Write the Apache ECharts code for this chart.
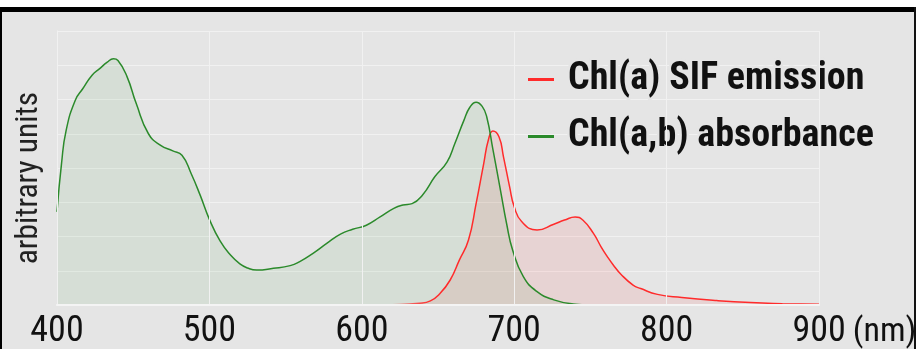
<!DOCTYPE html>
<html>
<head>
<meta charset="utf-8">
<script src="https://cdn.jsdelivr.net/npm/echarts@6/dist/echarts.min.js"></script>
<style>
  html, body { margin: 0; padding: 0; background: #ffffff; }
  #chart { width: 916px; height: 349px; }
</style>
</head>
<body>
<div id="chart"></div>
<script>
// Wavelength axis (nm)
const xTicks = [400, 500, 600, 700, 800, 900];

// Chl(a) SIF emission spectrum
const emissionNm  = [600, 620, 638, 645, 651, 658, 664, 670, 675, 680, 683, 686, 690, 693, 697, 700, 705, 715, 726, 733, 740, 745, 752, 757, 761, 765, 770, 778, 783, 794, 810, 833, 855, 876, 900];
const emissionVal = [0.00, 0.01, 0.05, 0.12, 0.32, 0.73, 1.31, 1.90, 2.96, 4.13, 4.81, 5.08, 4.91, 4.32, 3.45, 2.87, 2.43, 2.19, 2.36, 2.48, 2.57, 2.48, 2.09, 1.70, 1.42, 1.17, 0.90, 0.58, 0.48, 0.31, 0.22, 0.13, 0.07, 0.04, 0.02];

// Chl(a,b) absorbance spectrum
const absorbanceNm  = [400, 403, 406, 412, 417, 423, 428, 433, 437, 440, 446, 452, 460, 468, 476, 482, 488, 494, 500, 507, 514, 520, 525, 531, 542, 553, 559, 568, 577, 586, 594, 603, 612, 621, 627, 633, 640, 648, 656, 661, 667, 671, 675, 679, 682, 686, 691, 695, 699, 706, 715, 726, 739, 750, 760];
const absorbanceVal = [2.72, 4.14, 5.10, 5.98, 6.32, 6.71, 6.90, 7.09, 7.19, 7.14, 6.66, 5.88, 5.00, 4.66, 4.50, 4.37, 3.84, 3.20, 2.50, 1.87, 1.45, 1.20, 1.08, 1.02, 1.07, 1.15, 1.26, 1.51, 1.80, 2.07, 2.21, 2.33, 2.57, 2.82, 2.92, 2.96, 3.22, 3.75, 4.18, 4.71, 5.39, 5.78, 5.92, 5.80, 5.49, 4.55, 3.35, 2.38, 1.60, 0.83, 0.39, 0.15, 0.03, 0.00, 0.00];

const seriesNames = ['Chl(a) SIF emission', 'Chl(a,b) absorbance'];
const yAxisName = 'arbitrary units';
const xUnit = '(nm)';

const BG = '#e5e5e5';
const GRID_LINE = '#f1f1f1';
const RED = '#ff2b2b';
const GREEN = '#2b8a2b';

// Pick a narrow typeface if one is installed; otherwise fall back to Liberation Sans.
const measureCtx = document.createElement('canvas').getContext('2d');
function widthOf(prefix, weight, size, family, text) {
  measureCtx.font = [prefix, weight, size + 'px', family].filter(Boolean).join(' ');
  return measureCtx.measureText(text).width;
}
const SAMPLE = 'Chl(a,b) absorbance';
const refWidth = widthOf('', 'normal', 100, "'Liberation Sans'", SAMPLE);
const candidates = [
  ['', "'Liberation Sans Narrow'"],
  ['', "'Arial Narrow'"],
  ['', "'DejaVu Sans Condensed'"],
  ['', "'Noto Sans Condensed'"],
  ['', "'Roboto Condensed'"],
  ['', "'Open Sans Condensed'"],
  ['condensed', "'DejaVu Sans'"],
  ['condensed', "'Noto Sans'"]
];
let fontPrefix = '';
let FONT = "'Liberation Sans', sans-serif";
for (const [prefix, fam] of candidates) {
  const w = widthOf(prefix, 'normal', 100, fam + ", 'Liberation Sans'", SAMPLE);
  if (w < refWidth * 0.93) { fontPrefix = prefix; FONT = fam + ", 'Liberation Sans', sans-serif"; break; }
}
const STYLE = fontPrefix || 'normal';

// Size text so it spans the intended width, never above the nominal size.
function fitSize(text, weight, targetWidth, maxSize) {
  const w = widthOf(fontPrefix, weight, 100, FONT, text);
  return Math.min(maxSize, Math.floor(targetWidth / w * 100 * 2) / 2);
}
const legendSize = fitSize(SAMPLE, 'bold', 314, 38);
const tickSize = fitSize('400', 'normal', 54, 36);
const nameSize = fitSize(yAxisName, 'normal', 174, 32);
const unitSize = tickSize - 2;

// The unit follows the last tick label; a blank block of the same width
// on the left keeps the number itself centred on its tick.
const UNIT_GAP = 7;
const unitWidth = Math.ceil(widthOf(fontPrefix, 'normal', unitSize, FONT, xUnit)) + UNIT_GAP;
const lastTick = xTicks[xTicks.length - 1];

const pairs = (xs, ys) => xs.map((x, i) => [x, ys[i]]);

const chart = echarts.init(document.getElementById('chart'), null, { renderer: 'canvas' });

chart.setOption({
  backgroundColor: BG,
  animation: false,
  grid: { left: 57, right: 97, top: 31, bottom: 44, containLabel: false, outerBoundsMode: 'none' },
  legend: {
    orient: 'vertical',
    left: 528,
    top: 58,
    padding: 0,
    itemGap: 52 - legendSize,
    icon: 'rect',
    itemWidth: 26,
    itemHeight: 3,
    data: seriesNames,
    textStyle: {
      fontFamily: FONT,
      fontStyle: STYLE,
      fontWeight: 'bold',
      fontSize: legendSize,
      lineHeight: legendSize,
      color: '#111111',
      padding: [0, 0, 0, 9],
      textBorderColor: BG,
      textBorderWidth: 5
    }
  },
  xAxis: {
    type: 'value',
    min: xTicks[0],
    max: lastTick,
    interval: 100,
    axisLine: { show: true, lineStyle: { color: '#f4f4f4', width: 2 } },
    axisTick: { show: false },
    axisLabel: {
      fontFamily: FONT,
      fontStyle: STYLE,
      fontSize: tickSize,
      color: '#111111',
      margin: 9,
      formatter: v => v === lastTick ? '{pad|}{num|' + v + '}{gap|}{unit|' + xUnit + '}' : String(v),
      rich: {
        pad: { width: unitWidth, fontSize: tickSize, fontFamily: FONT, fontStyle: STYLE },
        num: { fontSize: tickSize, fontFamily: FONT, fontStyle: STYLE, color: '#111111' },
        gap: { width: UNIT_GAP, fontSize: tickSize, fontFamily: FONT, fontStyle: STYLE },
        unit: { fontSize: unitSize, fontFamily: FONT, fontStyle: STYLE, color: '#111111' }
      }
    },
    splitLine: { show: true, lineStyle: { color: GRID_LINE, width: 1 } },
    z: 5
  },
  yAxis: {
    type: 'value',
    min: 0,
    max: 8,
    interval: 1,
    name: yAxisName,
    nameLocation: 'middle',
    nameGap: 12,
    nameTextStyle: {
      fontFamily: FONT,
      fontStyle: STYLE,
      fontSize: nameSize,
      color: '#222222',
      padding: [0, 20, 0, 0]
    },
    axisLine: { show: true, lineStyle: { color: '#f4f4f4', width: 1 } },
    axisTick: { show: false },
    axisLabel: { show: false },
    splitLine: { show: true, lineStyle: { color: GRID_LINE, width: 1 } }
  },
  series: [
    {
      name: seriesNames[0],
      type: 'line',
      data: pairs(emissionNm, emissionVal),
      smooth: 0.5,
      symbol: 'none',
      color: RED,
      lineStyle: {
        width: 1.5,
        color: new echarts.graphic.LinearGradient(0, 0, 1, 0, [
          { offset: 0, color: 'rgba(255,43,43,0)' },
          { offset: 0.16, color: RED },
          { offset: 1, color: RED }
        ])
      },
      areaStyle: { color: 'rgba(255,0,0,0.11)' },
      z: 2
    },
    {
      name: seriesNames[1],
      type: 'line',
      data: pairs(absorbanceNm, absorbanceVal),
      smooth: 0.5,
      symbol: 'none',
      color: GREEN,
      lineStyle: {
        width: 1.5,
        color: new echarts.graphic.LinearGradient(0, 0, 1, 0, [
          { offset: 0, color: GREEN },
          { offset: 0.93, color: GREEN },
          { offset: 1, color: 'rgba(43,138,43,0)' }
        ])
      },
      areaStyle: { color: 'rgba(34,139,34,0.11)' },
      z: 2
    }
  ],
  graphic: [
    { type: 'rect', left: 0, top: 0, shape: { width: 916, height: 7 }, style: { fill: '#ffffff' }, z: 100 },
    { type: 'rect', left: 0, top: 7, shape: { width: 916, height: 5 }, style: { fill: '#000000' }, z: 100 },
    { type: 'rect', left: 0, top: 7, shape: { width: 2, height: 342 }, style: { fill: '#000000' }, z: 100 },
    { type: 'rect', left: 914, top: 7, shape: { width: 2, height: 342 }, style: { fill: '#111111' }, z: 100 }
  ]
});
</script>
</body>
</html>
